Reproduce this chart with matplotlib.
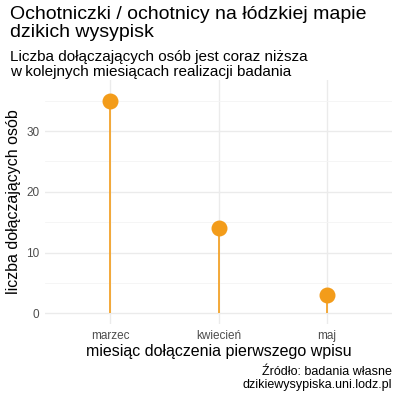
import matplotlib.pyplot as plt

plt.rcParams['font.family'] = ['Liberation Sans', 'DejaVu Sans']

months = ['marzec', 'kwiecień', 'maj']
counts = [35, 14, 3]
col = '#F39C1A'

fig = plt.figure(figsize=(4, 4), dpi=100)
ax = fig.add_axes([0.1125, 0.19, 0.8675, 0.61])
x = list(range(1, len(months) + 1))
ax.vlines(x, 0, counts, color=col, lw=1.2, zorder=3)
ax.scatter(x, counts, s=110, color=col, zorder=4)
ax.set_xlim(0.4, 3.6)
ax.set_ylim(-1.75, 38.4)
ax.set_xticks(x)
ax.set_xticklabels(months)
ax.set_yticks([0, 10, 20, 30])
ax.set_yticks([5, 15, 25, 35], minor=True)
ax.grid(True, which='major', color='#EBEBEB', lw=1.0)
ax.grid(True, which='minor', axis='y', color='#F4F4F4', lw=0.6)
ax.set_axisbelow(True)
for s in ax.spines.values():
    s.set_visible(False)
ax.tick_params(which='both', length=0, labelsize=8.5, colors='#4D4D4D', pad=4)
ax.set_xlabel('miesiąc dołączenia pierwszego wpisu', fontsize=11.5, labelpad=2)
ax.set_ylabel('liczba dołączających osób', fontsize=11.5, labelpad=4)

fig.text(0.025, 0.985, 'Ochotniczki / ochotnicy na łódzkiej mapie\ndzikich wysypisk',
         fontsize=14, va='top', ha='left', linespacing=1.05)
fig.text(0.025, 0.875, 'Liczba dołączających osób jest coraz niższa\nw kolejnych miesiącach realizacji badania',
         fontsize=11, va='top', ha='left', linespacing=1.05)
fig.text(0.98, 0.085, 'Źródło: badania własne\ndzikiewysypiska.uni.lodz.pl',
         fontsize=9, va='top', ha='right', linespacing=1.15)
fig.savefig('out.png', dpi=100)
